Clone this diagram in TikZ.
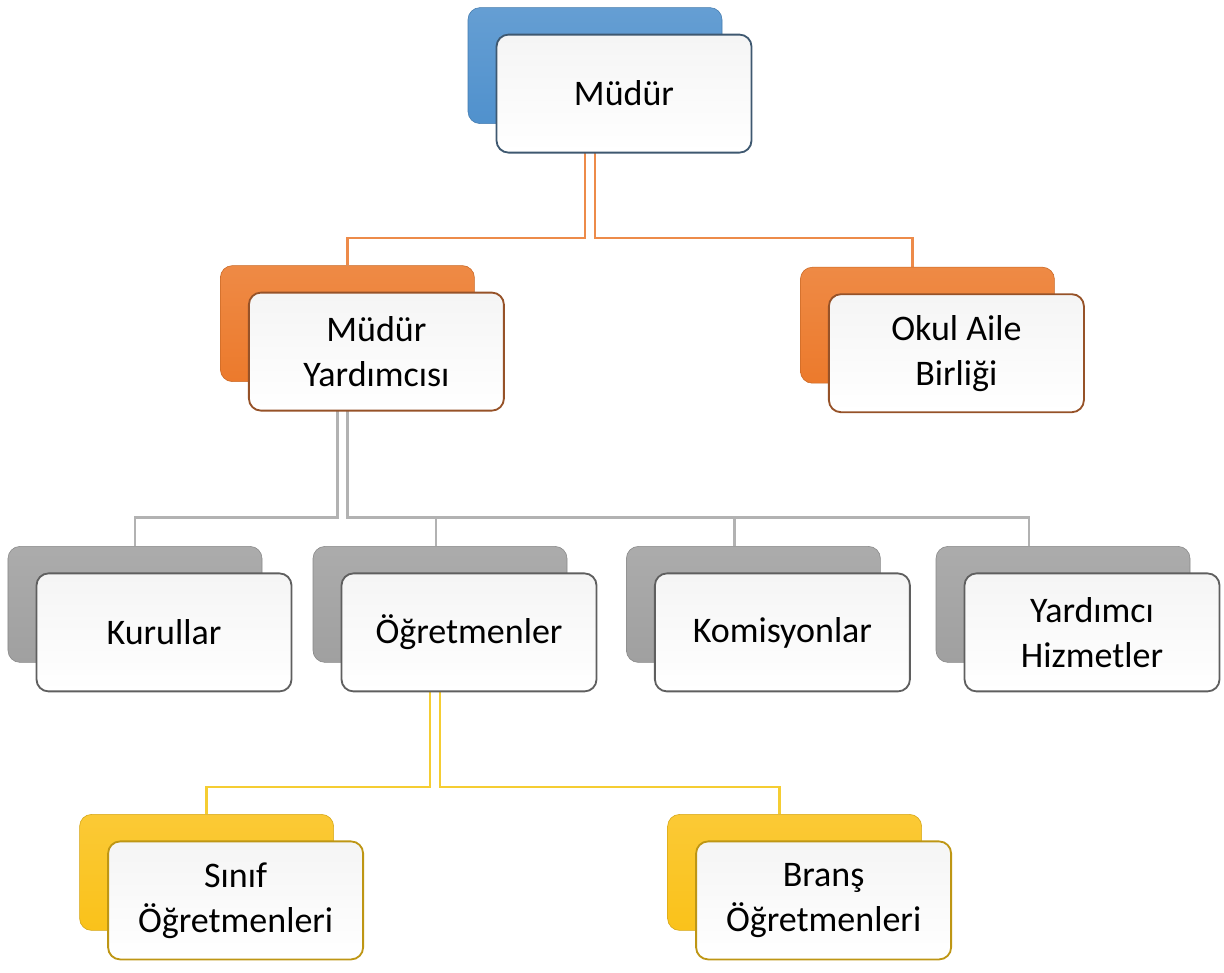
\documentclass[tikz,border=0pt]{standalone}
\usepackage{fontspec}
\setmainfont{Carlito}
\usetikzlibrary{backgrounds}

\definecolor{blueBox}{RGB}{80,145,205}
\definecolor{orangeBox}{RGB}{236,122,44}
\definecolor{grayBox}{RGB}{160,160,160}
\definecolor{yellowBox}{RGB}{250,194,26}
\definecolor{blueEdge}{RGB}{62,88,112}
\definecolor{orangeEdge}{RGB}{150,82,40}
\definecolor{grayEdge}{RGB}{95,95,95}
\definecolor{yellowEdge}{RGB}{190,150,20}
\definecolor{orangeLine}{RGB}{237,139,74}
\definecolor{grayLine}{RGB}{178,178,178}
\definecolor{yellowLine}{RGB}{245,205,50}

\begin{document}
\begin{tikzpicture}
        [backBox/.style={rounded corners=0.3cm, minimum width=6.35cm, minimum height=2.9cm,
            draw=#1!85!black, top color=#1!88!white, bottom color=#1},
        frontBox/.style={rounded corners=0.3cm, minimum width=6.375cm, minimum height=2.95cm,
            draw=#1, line width=1.3pt, top color=black!4, bottom color=white,
            align=center, font=\fontsize{25.6}{32}\selectfont},
        lineO/.style={draw=orangeLine, line width=1.6pt},
        lineG/.style={draw=grayLine, line width=1.6pt},
        lineY/.style={draw=yellowLine, line width=1.6pt}]
        \useasboundingbox (0,0) rectangle (30.6,-24.3);

        % first level
        \node[backBox=blueBox] (mudurB) at (14.875,-1.64) {};
        \node[frontBox=blueEdge] (mudur) at (15.6,-2.34) {Müdür};

        % second level
        \node[backBox=orangeBox] (myrdB) at (8.685,-8.09) {};
        \node[frontBox=orangeEdge] (myrd) at (9.41,-8.79) {Müdür\\Yardımcısı};
        \node[backBox=orangeBox] (veliB) at (23.185,-8.13) {};
        \node[frontBox=orangeEdge] (veli) at (23.91,-8.83) {Okul Aile\\Birliği};

        % third level
        \node[backBox=grayBox] (kurulB) at (3.375,-15.11) {};
        \node[frontBox=grayEdge] (kurul) at (4.1,-15.81) {Kurullar};
        \node[backBox=grayBox] (ogretB) at (11.0,-15.11) {};
        \node[frontBox=grayEdge] (ogret) at (11.725,-15.81) {Öğretmenler};
        \node[backBox=grayBox] (komisB) at (18.835,-15.11) {};
        \node[frontBox=grayEdge] (komis) at (19.56,-15.81) {Komisyonlar};
        \node[backBox=grayBox] (hizmetB) at (26.575,-15.11) {};
        \node[frontBox=grayEdge] (hizmet) at (27.3,-15.81) {Yardımcı\\Hizmetler};

        % fourth level
        \node[backBox=yellowBox] (sinifB) at (5.165,-21.81) {};
        \node[frontBox=yellowEdge] (sinif) at (5.89,-22.51) {Sınıf\\Öğretmenleri};
        \node[backBox=yellowBox] (bransB) at (19.865,-21.81) {};
        \node[frontBox=yellowEdge] (brans) at (20.59,-22.51) {Branş\\Öğretmenleri};

        \begin{scope}[on background layer]
        \draw[lineO] ([xshift=-0.25cm]mudurB.south) -- ++(0,-2.86) -| (myrdB.north);
        \draw[lineO] (mudurB.south) -- ++(0,-2.86) -| ([xshift=-0.375cm]veliB.north);

        \draw[lineG] ([xshift=-0.25cm]myrdB.south) -- ++(0,-3.39) -| (kurulB.north);
        \draw[lineG] (myrdB.south) -- ++(0,-3.39) coordinate (busG) -| ([xshift=-0.85cm]hizmetB.north);
        \draw[lineG] ([xshift=-0.1cm]ogretB.north) -- ([xshift=-0.1cm]ogretB.north |- busG);
        \draw[lineG] ([xshift=-0.475cm]komisB.north) -- ([xshift=-0.475cm]komisB.north |- busG);

        \draw[lineY] ([xshift=-0.25cm]ogretB.south) -- ++(0,-3.115) -| (sinifB.north);
        \draw[lineY] (ogretB.south) -- ++(0,-3.115) -| ([xshift=-0.375cm]bransB.north);
        \end{scope}

    \end{tikzpicture}
\end{document}
